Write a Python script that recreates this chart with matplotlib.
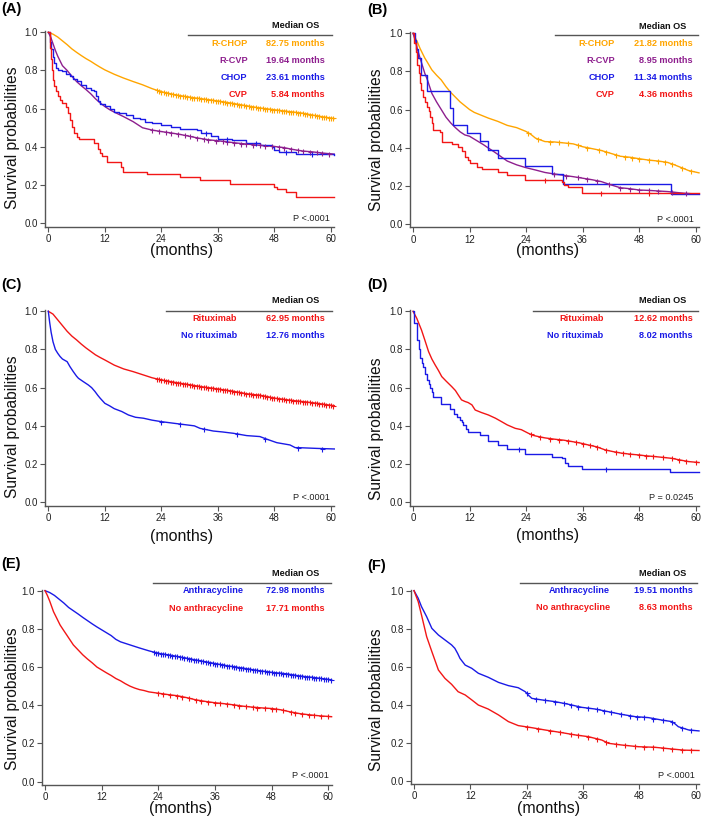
import numpy as np
import matplotlib
matplotlib.use("Agg")
import matplotlib.pyplot as plt

plt.rcParams['font.family'] = ['Liberation Sans', 'DejaVu Sans']

W, H = 709, 819
ORANGE = '#FFA500'
PURPLE = '#8E1F8E'
BLUE = '#1A1AE6'
RED = '#F21616'
GREY = '#555555'

x_ticks = [0, 12, 24, 36, 48, 60]
y_ticks = [0.0, 0.2, 0.4, 0.6, 0.8, 1.0]

# ---------------- Panel A ----------------
a_rchop_t = [0, 1, 2, 3, 4, 5, 6, 7, 8, 9, 10, 11, 12, 14, 16, 18, 20, 22, 24, 27, 30, 33, 36, 39, 42, 45, 48, 51, 54, 57, 60.7]
a_rchop_s = [1.0, 0.99, 0.975, 0.955, 0.935, 0.913, 0.895, 0.878, 0.862, 0.848, 0.832, 0.817, 0.803, 0.78, 0.76, 0.742, 0.725, 0.705, 0.688, 0.672, 0.66, 0.65, 0.64, 0.628, 0.615, 0.603, 0.594, 0.585, 0.576, 0.562, 0.548]
a_rcvp_t = [0, 0.5, 1, 1.5, 2, 2.5, 3, 4, 5, 6, 7, 8, 9, 10, 11, 12, 13, 14, 15, 16, 18, 20, 22, 24, 26, 28, 30, 32, 34, 36, 38, 40, 42, 44, 46, 48, 50, 52, 54, 56, 58, 60.7]
a_rcvp_s = [1.0, 0.975, 0.94, 0.905, 0.875, 0.85, 0.825, 0.8, 0.77, 0.742, 0.72, 0.7, 0.678, 0.652, 0.63, 0.611, 0.595, 0.582, 0.57, 0.558, 0.532, 0.5, 0.488, 0.48, 0.473, 0.465, 0.455, 0.445, 0.437, 0.432, 0.426, 0.42, 0.415, 0.41, 0.406, 0.402, 0.396, 0.386, 0.378, 0.374, 0.368, 0.362]
a_chop_t = [0, 0.3, 0.6, 0.9, 1.2, 1.6, 2.0, 3.0, 3.8, 4.5, 5.2, 6.0, 7.0, 8.0, 9.0, 9.8, 10.2, 10.6, 11.0, 12.0, 13.0, 14.0, 15.0, 16.5, 18.0, 19.5, 20.5, 22.0, 24.0, 26.0, 28.0, 31.5, 32.5, 34.5, 36.0, 39.0, 42.0, 45.0, 47.5, 48.0, 49.0, 52.5, 60.7]
a_chop_s = [1.0, 0.95, 0.91, 0.87, 0.84, 0.815, 0.805, 0.795, 0.78, 0.77, 0.755, 0.745, 0.725, 0.71, 0.7, 0.69, 0.665, 0.64, 0.625, 0.612, 0.598, 0.585, 0.575, 0.565, 0.553, 0.545, 0.532, 0.525, 0.515, 0.505, 0.495, 0.49, 0.47, 0.455, 0.443, 0.436, 0.418, 0.41, 0.398, 0.385, 0.375, 0.364, 0.357]
a_cvp_t = [0, 0.3, 0.5, 0.8, 1.0, 1.3, 1.6, 2.0, 2.5, 3.0, 3.8, 4.2, 4.5, 5.0, 5.5, 6.0, 6.5, 9.8, 10.5, 11.0, 11.3, 12.5, 15.5, 15.8, 21.0, 28.0, 32.2, 38.6, 47.8, 48.5, 50.5, 52.5, 60.7]
a_cvp_s = [1.0, 0.92, 0.86, 0.80, 0.75, 0.72, 0.69, 0.665, 0.646, 0.628, 0.611, 0.575, 0.54, 0.506, 0.47, 0.454, 0.44, 0.42, 0.39, 0.37, 0.35, 0.32, 0.295, 0.27, 0.258, 0.24, 0.225, 0.208, 0.192, 0.178, 0.165, 0.14, 0.14]

# ---------------- Panel B ----------------
b_rchop_t = [0, 0.5, 1, 1.5, 2, 2.5, 3, 4, 5, 6, 7, 8, 9, 10, 11, 12, 13, 14, 16, 18, 20, 22, 24, 25, 26, 28, 30, 32, 34, 36, 38, 40, 42, 44, 46, 48, 50, 52, 54, 55.5, 57, 58.5, 60.7]
b_rchop_s = [1.0, 0.975, 0.95, 0.92, 0.895, 0.87, 0.85, 0.808, 0.78, 0.755, 0.72, 0.69, 0.665, 0.64, 0.62, 0.6, 0.585, 0.575, 0.555, 0.538, 0.517, 0.505, 0.485, 0.47, 0.45, 0.432, 0.43, 0.425, 0.42, 0.405, 0.395, 0.385, 0.37, 0.355, 0.35, 0.342, 0.335, 0.33, 0.323, 0.31, 0.295, 0.28, 0.268]
b_rcvp_t = [0, 0.5, 1, 1.5, 2, 2.5, 3, 4, 5, 6, 7, 8, 9, 10, 11, 12, 13, 14, 15, 16, 17, 18, 20, 22, 24, 26, 28, 30, 32, 34, 36, 38, 40, 42, 44, 46, 48, 50, 52, 54, 56, 58, 60.7]
b_rcvp_s = [1.0, 0.96, 0.91, 0.87, 0.83, 0.79, 0.76, 0.685, 0.64, 0.6, 0.56, 0.53, 0.505, 0.483, 0.467, 0.46, 0.445, 0.43, 0.415, 0.398, 0.382, 0.365, 0.33, 0.31, 0.295, 0.283, 0.27, 0.262, 0.255, 0.248, 0.24, 0.232, 0.222, 0.205, 0.19, 0.185, 0.178, 0.176, 0.173, 0.17, 0.165, 0.16, 0.157]
b_chop_t = [0, 0.4, 0.7, 1.1, 1.6, 3.0, 7.9, 8.5, 11.4, 14.2, 16.0, 18.1, 23.8, 29.4, 31.8, 54.8, 60.7]
b_chop_s = [1.0, 0.965, 0.92, 0.87, 0.78, 0.695, 0.607, 0.52, 0.477, 0.433, 0.39, 0.347, 0.303, 0.26, 0.208, 0.157, 0.157]
b_cvp_t = [0, 0.3, 0.6, 0.9, 1.2, 1.5, 1.8, 2.2, 2.6, 2.9, 3.3, 3.6, 4.0, 4.3, 5.8, 6.1, 8.2, 9.6, 10.5, 11.0, 11.6, 12.1, 13.5, 14.6, 18.0, 19.9, 23.8, 31.6, 32.0, 33.0, 35.8, 60.7]
b_cvp_s = [1.0, 0.95, 0.9, 0.834, 0.79, 0.738, 0.7, 0.668, 0.64, 0.615, 0.59, 0.563, 0.53, 0.493, 0.484, 0.432, 0.42, 0.406, 0.38, 0.353, 0.335, 0.318, 0.3, 0.287, 0.275, 0.257, 0.231, 0.222, 0.205, 0.196, 0.164, 0.164]

# ---------------- Panel C ----------------
c_rit_t = [0, 1, 2, 3, 4, 5, 6, 7, 8, 9, 10, 11, 12, 14, 16, 18, 20, 22, 24, 27, 30, 33, 36, 39, 42, 45, 48, 51, 54, 57, 60.7]
c_rit_s = [1.0, 0.985, 0.955, 0.925, 0.895, 0.87, 0.85, 0.828, 0.808, 0.79, 0.772, 0.758, 0.745, 0.718, 0.698, 0.684, 0.668, 0.652, 0.64, 0.627, 0.615, 0.603, 0.593, 0.582, 0.568, 0.56, 0.545, 0.535, 0.527, 0.518, 0.505]
c_norit_t = [0, 0.3, 0.6, 1.0, 1.5, 2.0, 2.5, 3.0, 4.0, 4.6, 5.3, 6.0, 6.4, 7.4, 8.5, 9.2, 9.9, 10.5, 11.0, 12.0, 13.0, 14.0, 15.6, 17.0, 18.5, 20.2, 22.0, 24.0, 26.5, 29.4, 31.0, 32.2, 35.0, 37.0, 39.3, 42.1, 44.9, 46.4, 48.5, 51.3, 52.4, 53.0, 57.0, 60.7]
c_norit_s = [1.0, 0.94, 0.89, 0.84, 0.8, 0.78, 0.763, 0.75, 0.736, 0.71, 0.684, 0.66, 0.649, 0.632, 0.614, 0.6, 0.58, 0.56, 0.545, 0.518, 0.505, 0.49, 0.475, 0.457, 0.445, 0.44, 0.43, 0.422, 0.414, 0.405, 0.4, 0.387, 0.373, 0.368, 0.361, 0.349, 0.344, 0.33, 0.312, 0.3, 0.286, 0.286, 0.282, 0.279]

# ---------------- Panel D ----------------
d_rit_t = [0, 0.8, 1.8, 2.5, 3.3, 4, 4.7, 5.4, 6.1, 7, 8.2, 9, 9.6, 10.3, 11, 11.7, 12.5, 13.2, 14.5, 16, 17.5, 18.8, 20, 21.7, 23, 24.5, 25.5, 26.6, 28, 30.1, 32, 33.7, 35.5, 37.2, 39, 40.8, 42.5, 44.3, 46, 47.8, 49.5, 51.4, 53, 54.9, 56.5, 58.5, 60.7]
d_rit_s = [1.0, 0.963, 0.902, 0.85, 0.789, 0.75, 0.719, 0.69, 0.658, 0.635, 0.606, 0.585, 0.562, 0.536, 0.528, 0.522, 0.51, 0.483, 0.47, 0.457, 0.44, 0.422, 0.405, 0.387, 0.38, 0.361, 0.35, 0.344, 0.337, 0.33, 0.325, 0.318, 0.31, 0.3, 0.29, 0.274, 0.265, 0.257, 0.252, 0.248, 0.243, 0.239, 0.235, 0.23, 0.222, 0.213, 0.208]
d_norit_t = [0, 0.3, 0.8, 1.2, 1.5, 1.9, 2.2, 2.6, 2.9, 3.3, 3.6, 4.0, 4.3, 5.9, 7.9, 8.6, 9.3, 10.0, 10.4, 10.7, 11.2, 11.7, 14.2, 16.0, 18.1, 19.9, 23.8, 29.4, 31.6, 32.3, 32.8, 35.8, 54.6, 60.7]
d_norit_s = [1.0, 0.937, 0.85, 0.8, 0.754, 0.73, 0.71, 0.67, 0.64, 0.62, 0.597, 0.575, 0.553, 0.513, 0.49, 0.462, 0.445, 0.431, 0.418, 0.405, 0.385, 0.37, 0.353, 0.323, 0.3, 0.277, 0.253, 0.239, 0.23, 0.204, 0.19, 0.175, 0.161, 0.161]

# ---------------- Panel E ----------------
e_anth_t = [0, 1, 2, 3, 4, 5, 6, 7, 8, 9, 10, 11, 12, 13, 14, 15, 16, 18, 20, 22, 24, 27, 30, 33, 36, 39, 42, 45, 48, 51, 54, 57, 60.7]
e_anth_s = [1.0, 0.99, 0.975, 0.955, 0.935, 0.912, 0.895, 0.878, 0.86, 0.843, 0.826, 0.81, 0.795, 0.78, 0.765, 0.745, 0.732, 0.716, 0.7, 0.685, 0.672, 0.66, 0.646, 0.632, 0.618, 0.605, 0.594, 0.582, 0.572, 0.565, 0.553, 0.545, 0.533]
e_noanth_t = [0, 0.5, 1, 1.8, 2.5, 3.2, 4, 4.6, 5.3, 6, 7, 8, 9, 10, 11, 12, 13, 14, 15, 16, 17, 18, 19, 20, 21, 22, 24, 26, 28, 30, 32, 34, 36, 38, 40, 42, 44, 46, 48, 50, 52, 54, 56, 58, 60.7]
e_noanth_s = [1.0, 0.975, 0.945, 0.89, 0.855, 0.82, 0.79, 0.768, 0.742, 0.716, 0.69, 0.664, 0.642, 0.622, 0.6, 0.585, 0.57, 0.556, 0.54, 0.528, 0.513, 0.5, 0.49, 0.482, 0.477, 0.47, 0.463, 0.456, 0.45, 0.44, 0.428, 0.42, 0.413, 0.408, 0.402, 0.395, 0.39, 0.386, 0.383, 0.376, 0.365, 0.356, 0.35, 0.345, 0.34]

# ---------------- Panel F ----------------
f_anth_t = [0, 0.9, 1.6, 2.7, 3.8, 5.2, 6.6, 8.0, 8.7, 9.3, 9.8, 10.9, 12.3, 13.7, 15.8, 18.0, 20.1, 22.2, 23.7, 24.4, 25.1, 27.2, 30.0, 32.9, 35.7, 38.6, 41.4, 44.2, 47.1, 49.9, 52.8, 54.9, 55.6, 56.3, 58.5, 60.7]
f_anth_s = [1.0, 0.96, 0.916, 0.863, 0.802, 0.767, 0.741, 0.715, 0.697, 0.67, 0.644, 0.609, 0.592, 0.566, 0.545, 0.518, 0.501, 0.49, 0.469, 0.45, 0.434, 0.426, 0.417, 0.403, 0.387, 0.378, 0.364, 0.35, 0.338, 0.333, 0.32, 0.312, 0.3, 0.285, 0.268, 0.263]
f_noanth_t = [0, 0.9, 1.6, 2.7, 3.8, 5.2, 6.6, 8.0, 9.4, 10.9, 12.3, 13.7, 15.8, 18.0, 20.1, 22.2, 25.1, 27.9, 31.5, 34.3, 37.1, 40.0, 41.4, 44.2, 47.8, 51.3, 54.9, 57.5, 60.7]
f_noanth_s = [1.0, 0.942, 0.872, 0.758, 0.68, 0.583, 0.539, 0.508, 0.469, 0.452, 0.426, 0.399, 0.378, 0.347, 0.312, 0.291, 0.28, 0.268, 0.254, 0.242, 0.233, 0.215, 0.198, 0.189, 0.18, 0.177, 0.168, 0.162, 0.16]

# ---------------- censor times (months) ----------------
dense_cens = [23.0, 23.5, 24.0, 24.5, 25.0, 25.5, 26.0, 26.5, 27.0, 27.5, 28.0, 28.5, 29.0, 29.5, 30.0, 30.5,
              31.0, 31.5, 32.0, 32.5, 33.0, 33.5, 34.0, 34.5, 35.0, 35.5, 36.0, 36.5, 37.0, 37.5, 38.0, 38.5,
              39.0, 39.5, 40.0, 40.5, 41.0, 41.5, 42.0, 42.5, 43.0, 43.5, 44.0, 44.5, 45.0, 45.5, 46.0, 46.5,
              47.0, 47.5, 48.0, 48.5, 49.0, 49.5, 50.0, 50.5, 51.0, 51.5, 52.0, 52.5, 53.0, 53.5, 54.0, 54.5,
              55.0, 55.5, 56.0, 56.5, 57.0, 57.5, 58.0, 58.5, 59.0, 59.5, 60.0, 60.5]
a_rcvp_cens = [22, 23.5, 25, 26, 27.5, 29, 30, 31.5, 33, 34, 35.5, 37, 38, 39.5, 41, 42, 43.5, 45, 46, 47.5, 49, 50, 51.5, 53, 54, 55.5, 57, 58, 59.5]
a_chop_cens = [33.5, 38, 44, 50.5, 56]
b_rchop_cens = [24.5, 26.5, 29, 31, 33, 35, 37, 39.5, 41, 43, 45, 46.5, 48, 50, 52, 53.5, 55, 57, 59]
b_rcvp_cens = [30, 32.5, 35, 37, 39, 41.5, 44, 46, 48, 50, 52, 55, 58]
b_cvp_cens = [28, 40, 50]
c_norit_cens = [24, 28, 33, 40, 46, 53, 58]
d_rit_cens = [25, 27, 29, 31, 33, 34.5, 36, 37.5, 39, 41, 43, 44.5, 46, 48, 49.5, 51, 53, 55, 56.5, 58, 60]
d_norit_cens = [22.5, 41]
e_noanth_cens = [24, 25, 26.5, 28, 29, 30.5, 32, 33, 34.5, 36, 37, 38.5, 40, 41, 42.5, 44, 45, 46.5, 48, 49, 50.5, 52, 53, 54.5, 56, 57, 58.5, 60]
f_anth_cens = [24, 26, 28, 30, 32, 33.5, 35, 37, 39, 40.5, 42, 44, 46, 47.5, 49, 51, 53, 55, 57, 59]
f_noanth_cens = [24, 26.5, 29, 31, 33.5, 35, 37, 39, 41, 43, 45, 47, 49, 51, 53, 55, 57, 59]

# ---------------- legend texts ----------------
a_groups = ['R-CHOP', 'R-CVP', 'CHOP', 'CVP']
a_medians = ['82.75 months', '19.64 months', '23.61 months', '5.84 months']
b_groups = ['R-CHOP', 'R-CVP', 'CHOP', 'CVP']
b_medians = ['21.82 months', '8.95 months', '11.34 months', '4.36 months']
c_groups = ['Rituximab', 'No rituximab']
c_medians = ['62.95 months', '12.76 months']
d_groups = ['Rituximab', 'No rituximab']
d_medians = ['12.62 months', '8.02 months']
e_groups = ['Anthracycline', 'No anthracycline']
e_medians = ['72.98 months', '17.71 months']
f_groups = ['Anthracycline', 'No anthracycline']
f_medians = ['19.51 months', '8.63 months']
p_values = ['P <.0001', 'P <.0001', 'P <.0001', 'P = 0.0245', 'P <.0001', 'P <.0001']

fig = plt.figure(figsize=(W / 100, H / 100), dpi=100)


def add_ax(left, top, right, bottom):
    return fig.add_axes([left / W, 1 - bottom / H, (right - left) / W, (bottom - top) / H])


def style_ax(ax, xpad=2.0):
    ax.set_xlim(-0.7, 60.7)
    ax.set_ylim(-0.018, 1.005)
    for s in ['top', 'right']:
        ax.spines[s].set_visible(False)
    for s in ['left', 'bottom']:
        ax.spines[s].set_color(GREY)
        ax.spines[s].set_linewidth(1.0)
    ax.set_xticks(x_ticks)
    ax.set_yticks(y_ticks)
    ax.set_yticklabels(['%.1f' % v for v in y_ticks])
    ax.tick_params(direction='out', length=3.5, width=0.8, color=GREY,
                   labelsize=7, labelcolor='#222222')
    ax.tick_params(axis='y', pad=1.5)
    ax.tick_params(axis='x', pad=xpad)


def km(ax, t, s, color, step=False, cens=None):
    ds = 'steps-post' if step else 'default'
    ax.plot(t, s, color=color, lw=1.0, drawstyle=ds, clip_on=False, zorder=3)
    if cens:
        ct = np.array(cens, dtype=float)
        if step:
            idx = np.searchsorted(np.array(t), ct, side='right') - 1
            cy = np.array(s)[idx]
        else:
            cy = np.interp(ct, t, s)
        ax.plot(ct, cy, ls='none', marker='+', ms=3.6, mew=0.8, color=color,
                clip_on=False, zorder=4)


def legend_block(ax, groups, medians, colors, head_y, line_y, line_x0, line_x1,
                 head_x, lab_x, val_x, row_ys):
    ax.text(head_x, head_y, 'Median OS', ha='right', va='center', fontsize=6.6,
            fontweight='bold', color='#111111', clip_on=False)
    ax.plot([line_x0, line_x1], [line_y, line_y], color=GREY, lw=1.0, clip_on=False)
    for g, m, c, y in zip(groups, medians, colors, row_ys):
        ax.text(lab_x, y, g, ha='right', va='center', fontsize=6.6, fontweight='bold', color=c)
        ax.text(val_x, y, m, ha='right', va='center', fontsize=6.6, fontweight='bold', color=c)


def pval(ax, txt, x, y):
    ax.text(x, y, txt, ha='right', va='center', fontsize=6.6, color='#222222')


def labels(letter, lx, ly, ylx, yly, xlx, xly):
    fig.text(lx / W, 1 - ly / H, letter, ha='left', va='center', fontsize=10.5, fontweight='bold')
    fig.text(ylx / W, 1 - yly / H, 'Survival probabilities', rotation=90, ha='center',
             va='center', fontsize=11.2, color='#111111')
    fig.text(xlx / W, 1 - xly / H, '(months)', ha='center', va='center', fontsize=11.5,
             color='#111111')


# Panel A
axA = add_ax(45.0, 31.3, 334.3, 226.7)
style_ax(axA)
km(axA, a_rchop_t, a_rchop_s, ORANGE, cens=dense_cens)
km(axA, a_rcvp_t, a_rcvp_s, PURPLE, cens=a_rcvp_cens)
km(axA, a_chop_t, a_chop_s, BLUE, step=True, cens=a_chop_cens)
km(axA, a_cvp_t, a_cvp_s, RED, step=True)
legend_block(axA, a_groups, a_medians, [ORANGE, PURPLE, BLUE, RED], 1.035, 0.986, 29.7, 60.2,
             57.5, 42.3, 58.7, [0.942, 0.851, 0.762, 0.672])
pval(axA, p_values[0], 59.8, 0.023)
labels('(A)', 1, 9.5, 13, 138, 182, 251)

# Panel B
axB = add_ax(409.7, 32.3, 699.0, 227.4)
style_ax(axB)
km(axB, b_rchop_t, b_rchop_s, ORANGE, cens=b_rchop_cens)
km(axB, b_rcvp_t, b_rcvp_s, PURPLE, cens=b_rcvp_cens)
km(axB, b_chop_t, b_chop_s, BLUE, step=True)
km(axB, b_cvp_t, b_cvp_s, RED, step=True, cens=b_cvp_cens)
legend_block(axB, b_groups, b_medians, [ORANGE, PURPLE, BLUE, RED], 1.038, 0.99, 30.1, 60.5,
             57.9, 42.8, 59.3, [0.948, 0.857, 0.768, 0.677])
pval(axB, p_values[1], 59.6, 0.021)
labels('(B)', 367.7, 10, 376.7, 140, 547.5, 251)

# Panel C
axC = add_ax(45.0, 310.3, 334.3, 505.7)
style_ax(axC)
km(axC, c_rit_t, c_rit_s, RED, cens=dense_cens)
km(axC, c_norit_t, c_norit_s, BLUE, cens=c_norit_cens)
legend_block(axC, c_groups, c_medians, [RED, BLUE], 1.055, 1.0, 25.0, 60.2,
             57.5, 40.0, 58.7, [0.963, 0.872])
pval(axC, p_values[2], 59.8, 0.024)
labels('(C)', 1, 285.3, 13, 427, 182, 536)

# Panel D
axD = add_ax(409.7, 310.3, 699.0, 505.7)
style_ax(axD)
km(axD, d_rit_t, d_rit_s, RED, cens=d_rit_cens)
km(axD, d_norit_t, d_norit_s, BLUE, step=True, cens=d_norit_cens)
legend_block(axD, d_groups, d_medians, [RED, BLUE], 1.055, 1.0, 25.5, 60.5,
             57.9, 40.4, 59.3, [0.963, 0.872])
pval(axD, p_values[3], 59.6, 0.024)
labels('(D)', 367.7, 285.3, 376.7, 429, 547.5, 535.7)

# Panel E
axE = add_ax(41.7, 589.7, 331.6, 785.1)
style_ax(axE, xpad=1.2)
km(axE, e_anth_t, e_anth_s, BLUE, cens=dense_cens)
km(axE, e_noanth_t, e_noanth_s, RED, cens=e_noanth_cens)
legend_block(axE, e_groups, e_medians, [BLUE, RED], 1.091, 1.039, 22.9, 60.6,
             58.1, 42.0, 59.3, [1.0, 0.909])
pval(axE, p_values[4], 60.2, 0.031)
labels('(E)', 1, 564, 13, 698.7, 180.7, 808.8)

# Panel F
axF = add_ax(410.7, 589.7, 699.0, 784.4)
style_ax(axF, xpad=1.2)
km(axF, f_anth_t, f_anth_s, BLUE, cens=f_anth_cens)
km(axF, f_noanth_t, f_noanth_s, RED, cens=f_noanth_cens)
legend_block(axF, f_groups, f_medians, [BLUE, RED], 1.091, 1.039, 22.6, 60.3,
             57.9, 41.7, 59.3, [1.0, 0.909])
pval(axF, p_values[5], 59.8, 0.028)
labels('(F)', 367.7, 565.8, 376.7, 700, 548.7, 808.8)

fig.savefig('out.png', dpi=100)
